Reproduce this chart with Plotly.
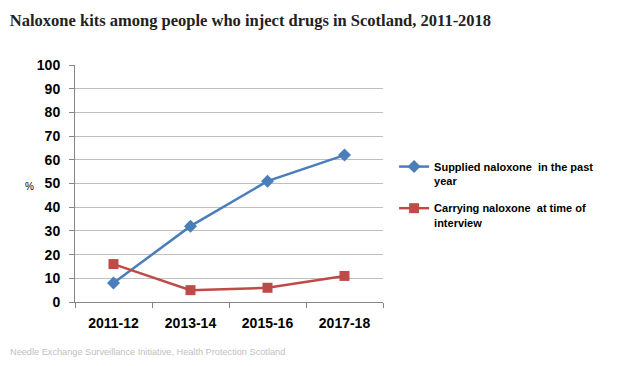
import plotly.graph_objects as go

categories = ["2011-12", "2013-14", "2015-16", "2017-18"]
supplied = [8, 32, 51, 62]
carrying = [16, 5, 6, 11]
y_ticks = list(range(0, 101, 10))

title = "Naloxone kits among people who inject drugs in Scotland, 2011-2018"
source = "Needle Exchange Surveillance Initiative, Health Protection Scotland"

fig = go.Figure()
fig.add_trace(go.Scatter(
    x=categories, y=supplied, mode="lines+markers", legendgroup="a",
    name="Supplied naloxone  in the past<br>year",
    line=dict(color="#4A7EBB", width=2.5),
    marker=dict(symbol="diamond", size=10, color="#4A7EBB"),
))
fig.add_trace(go.Scatter(
    x=categories, y=carrying, mode="lines+markers", legendgroup="b",
    name="Carrying naloxone  at time of<br>interview",
    line=dict(color="#BE4B48", width=2.5),
    marker=dict(symbol="square", size=10, color="#BE4B48"),
))

fig.update_layout(
    width=610, height=358,
    margin=dict(l=67, r=235, t=57, b=64),
    paper_bgcolor="white", plot_bgcolor="white",
    font=dict(family="Liberation Sans", color="#000000"),
    title=dict(text="<b>" + title + "</b>", x=0.003, xanchor="left", y=0.966, yanchor="middle",
               font=dict(family="Liberation Serif", size=16.5, color="#222222")),
    showlegend=True,
    legend=dict(x=1.036, xanchor="left", y=0.629, yanchor="top", valign="top",
                font=dict(family="Liberation Sans", size=11, color="#000000", weight="bold"),
                tracegroupgap=10, bgcolor="rgba(0,0,0,0)"),
    xaxis=dict(
        type="category", range=[-0.5, 3.5], showgrid=False,
        showline=True, linecolor="#868686", linewidth=1,
        ticks="outside", tickson="boundaries", ticklen=5, tickcolor="#868686",
        ticklabelstandoff=8,
        tickfont=dict(family="Liberation Sans", size=14, color="#000000", weight="bold"),
    ),
    yaxis=dict(
        range=[0, 100], tickvals=y_ticks, showgrid=True, gridcolor="#BFBFBF", gridwidth=1,
        showline=True, linecolor="#868686", linewidth=1, zeroline=False,
        ticks="outside", ticklen=5, tickcolor="#868686", ticklabelstandoff=6,
        tickfont=dict(family="Liberation Sans", size=14, color="#000000", weight="bold"),
    ),
    annotations=[
        dict(text="%", xref="paper", yref="paper", x=-0.169, y=0.489, showarrow=False,
             font=dict(family="Liberation Sans", size=10, color="#000000")),
        dict(text=source, xref="paper", yref="paper", x=-0.2175, xanchor="left", y=-0.211, yanchor="middle",
             showarrow=False, font=dict(family="Liberation Sans", size=9.2, color="#C0C0C0")),
    ],
)

fig.write_html("out.html")
